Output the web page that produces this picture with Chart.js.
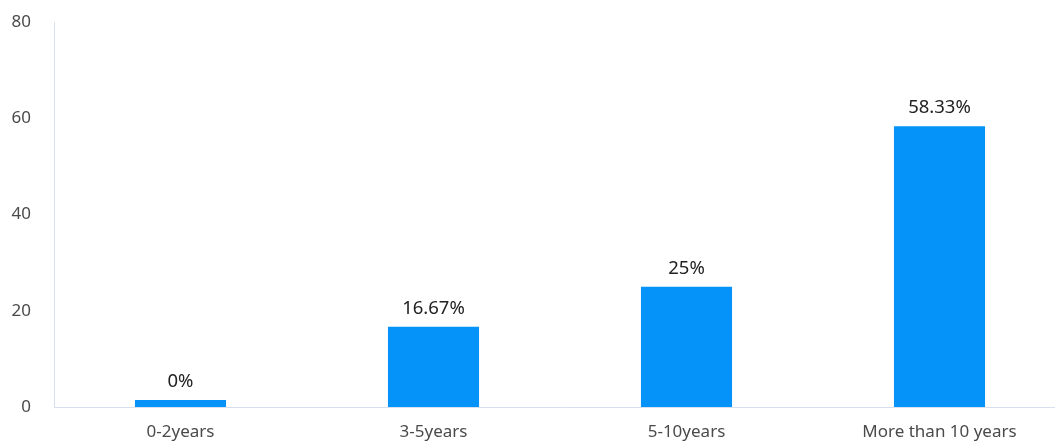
<!DOCTYPE html>
<html>
<head>
<meta charset="utf-8">
<script src="https://cdn.jsdelivr.net/npm/chart.js@4.4.1/dist/chart.umd.min.js"></script>
<style>
  html, body { margin: 0; padding: 0; background: #fff; overflow: hidden; }
  #wrap { width: 1055px; height: 441px; overflow: hidden; }
</style>
</head>
<body>
<div id="wrap"><canvas id="chart" width="1066" height="441"></canvas></div>
<script>
const categories = ['0-2years', '3-5years', '5-10years', 'More than 10 years'];
const shares = [0, 16.67, 25, 58.33];
const yTicks = [0, 20, 40, 60, 80];

const barColor = '#0593fa';
const axisColor = '#d6e0f0';
const fontFamily = '"Noto Sans", "Open Sans", sans-serif';

// prints the percentage above each bar
const valueLabels = {
    id: 'valueLabels',
    afterDatasetsDraw(chart) {
        const ctx = chart.ctx;
        const meta = chart.getDatasetMeta(0);
        ctx.save();
        ctx.fillStyle = '#222';
        ctx.font = '18.5px ' + fontFamily;
        ctx.textAlign = 'center';
        ctx.textBaseline = 'bottom';
        meta.data.forEach((bar, i) => {
            ctx.fillText(shares[i] + '%', bar.x, bar.y - 9);
        });
        ctx.restore();
    }
};

new Chart(document.getElementById('chart'), {
    type: 'bar',
    data: {
        labels: categories,
        datasets: [{
            data: shares,
            backgroundColor: barColor,
            barPercentage: 0.36,
            categoryPercentage: 1,
            minBarLength: 7
        }]
    },
    options: {
        responsive: false,
        animation: false,
        layout: { padding: { top: 22, right: 0, left: 0, bottom: 0 } },
        plugins: { legend: { display: false }, tooltip: { enabled: false } },
        scales: {
            x: {
                grid: { display: false },
                border: { display: true, color: axisColor },
                ticks: { color: '#4a4a4a', font: { family: fontFamily, size: 17 }, padding: 7 },
                afterFit(scale) { scale.height = 34; }
            },
            y: {
                min: 0,
                max: 80,
                afterBuildTicks(scale) { scale.ticks = yTicks.map(v => ({ value: v })); },
                grid: { display: false },
                border: { display: true, color: axisColor },
                ticks: { color: '#4a4a4a', font: { family: fontFamily, size: 17 }, padding: 15 },
                afterFit(scale) { scale.width = 54; scale.paddingTop = 0; scale.paddingBottom = 0; }
            }
        }
    },
    plugins: [valueLabels]
});
</script>
</body>
</html>
